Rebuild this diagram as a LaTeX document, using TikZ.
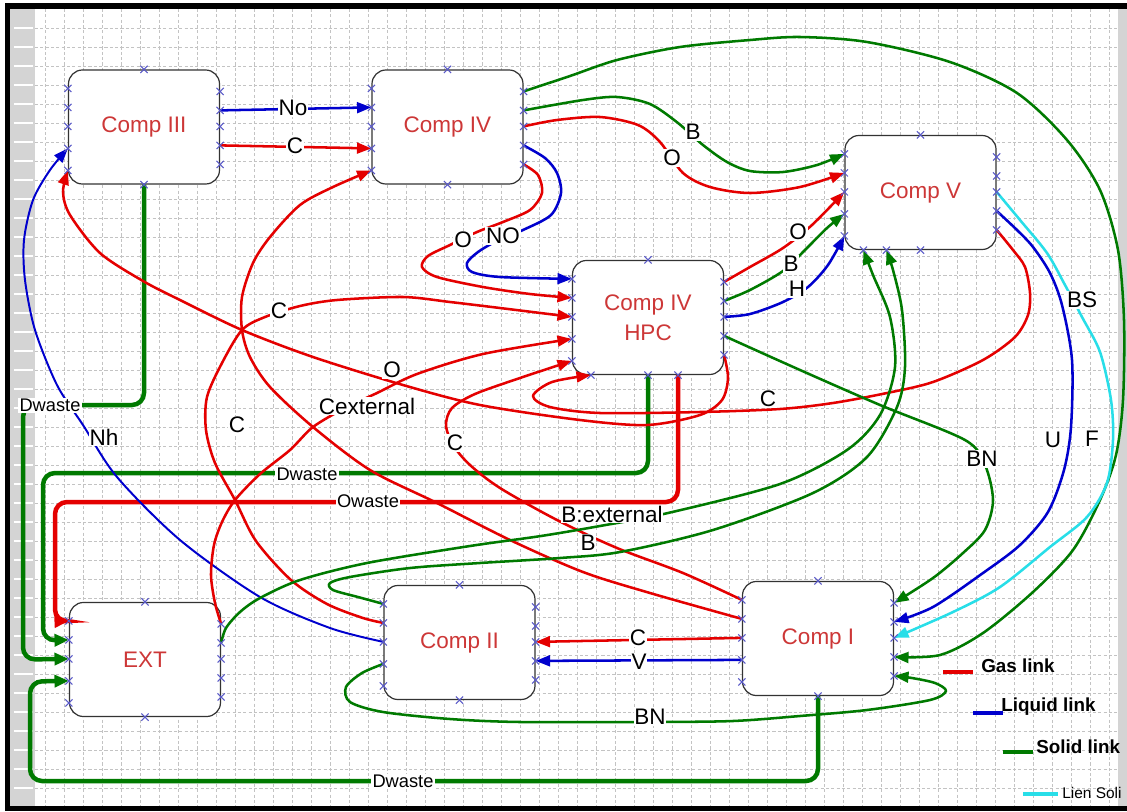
\documentclass[tikz,border=0pt]{standalone}
\usepackage{fontspec}
\setmainfont{Liberation Sans}
\usetikzlibrary{arrows.meta,calc}

\definecolor{lred}{RGB}{228,0,0}
\definecolor{lblue}{RGB}{0,0,205}
\definecolor{lgreen}{RGB}{0,122,0}
\definecolor{lcyan}{RGB}{40,222,232}
\definecolor{ntext}{RGB}{205,55,55}
\definecolor{pmark}{RGB}{90,90,200}
\definecolor{gridc}{RGB}{195,195,195}
\definecolor{stripc}{RGB}{212,212,212}

\tikzset{
  comp/.style={draw=black!80, line width=0.85pt, fill=white, rounded corners=0.35cm,
    minimum width=3.775cm, minimum height=2.85cm, text=ntext,
    font=\fontsize{16}{21}\selectfont, align=center, inner sep=0pt},
  lnk/.style={line width=1.8pt, line join=round, -{Triangle[length=0.36cm,width=0.27cm]}},
  gas/.style={lnk, color=lred},
  liq/.style={lnk, color=lblue},
  sol/.style={lnk, color=lgreen},
  cya/.style={lnk, color=lcyan},
  wst/.style={line width=3.2pt, rounded corners=0.3cm, -{Triangle[length=0.36cm,width=0.3cm]}},
  pm/.style={draw=pmark, line width=0.75pt},
  lab/.style={fill=white, inner sep=0.6pt, text=black, font=\fontsize{16}{18}\selectfont},
  slab/.style={fill=white, inner sep=0.8pt, text=black, font=\fontsize{13}{15}\selectfont},
  gridline/.style={draw=gridc, line width=0.45pt, dash pattern=on 2.2pt off 1.6pt},
  legtext/.style={anchor=west, inner sep=0pt, font=\bfseries\fontsize{13.4}{15}\selectfont},
}

\newcommand\mkports[1]{%
  \foreach \i/\d in {1/19,2/38,3/57,4/79,5/101}{\coordinate (#1-L\i) at ($(#1.north west)+(0,\d)$);}%
  \foreach \i/\d in {1/22,2/41,3/57,4/76,5/95}{\coordinate (#1-R\i) at ($(#1.north east)+(0,\d)$);}%
}
\newcommand\xmark[1]{\draw[pm] (#1) +(-3.6,-3.6) -- +(3.6,3.6) +(-3.6,3.6) -- +(3.6,-3.6);}
\newcommand\drawports[1]{%
  \foreach \p in {L1,L2,L3,L4,L5,R1,R2,R3,R4,R5}{\xmark{#1-\p}}%
  \xmark{#1.north}\xmark{#1.south}%
}

\begin{document}
\begin{tikzpicture}[x=0.025cm,y=-0.025cm]
\useasboundingbox (0,0) rectangle (1127,811);
\clip (0,0) rectangle (1127,811);
% background and frame
\fill[white] (0,0) rectangle (1127,811);
\fill[black] (5,3) rectangle (1127,811);
\fill[white] (10,9) rectangle (1127,806);
\fill[stripc] (10,9) rectangle (35,806);
\fill[stripc] (1118,9) rectangle (1127,806);
\foreach \y in {28,47,...,805} \draw[white, line width=0.8pt] (14,\y) -- (33,\y);
% grid
\foreach \x in {45,64,...,1117} \draw[gridline] (\x,9) -- (\x,806);
\foreach \y in {28,47,...,805} \draw[gridline] (35,\y) -- (1118,\y);

% nodes
\node[comp] (c3) at (144,127) {Comp III};
\node[comp] (c4) at (447.5,127) {Comp IV};
\node[comp] (c5) at (920.5,192.5) {Comp V};
\node[comp] (hpc) at (648,317.5) {Comp IV\\HPC};
\node[comp] (ext) at (145,659.5) {EXT};
\node[comp] (c2) at (459.5,642.5) {Comp II};
\node[comp] (c1) at (818,638.5) {Comp I};
\mkports{c3}\mkports{c4}\mkports{c5}\mkports{hpc}\mkports{ext}\mkports{c2}\mkports{c1}
\coordinate (hpc-BL) at ($(hpc.south west)+(19,0)$);
\coordinate (hpc-BR) at ($(hpc.south)+(30,0)$);
\coordinate (c5-B1) at ($(c5.south west)+(19,0)$);
\coordinate (c5-B2) at ($(c5.south west)+(42,0)$);

% ---------- connectors ----------
% Comp III -> Comp IV
\draw[liq] (c3-R2) -- (c4-L2);
\draw[gas] (c3-R4) -- (c4-L4);
% waste lines
\draw[wst, color=lgreen] (c3.south) -- (144,405) -- (23,405) -- (23,659.5) -- (ext-L3);
\draw[wst, color=lgreen] (hpc.south) -- (648,473) -- (43,473) -- (43,640.5) -- (ext-L2);
\draw[wst, color=lred] (hpc-BR) -- (678,502) -- (55,502) -- (55,621.5) -- (ext-L1);
\draw[wst, color=lgreen] (c1.south) -- (818,781) -- (30,781) -- (30,681.5) -- (ext-L4);
% Nh
\draw[liq, line width=1.4pt] plot[smooth] coordinates {(c2-L3) (330,628) (260,597) (180,540) (117,477) (83,425) (57,385) (35,330) (25,280) (24,240) (33,200) (50,170) (c3-L4)};
% O : HPC -> Comp III
\draw[gas] plot[smooth] coordinates {(hpc-R5) (728,378) (722,400) (700,415) (647,425) (580,420) (480,405) (403,385) (313,357) (242,330) (180,300) (143,281) (100,253) (70,215) (63,192) (c3-L5)};
% C : Comp V -> HPC
\draw[gas] plot[smooth] coordinates {(c5-R5) (1013,250) (1025,267) (1030,293) (1028,315) (1015,337) (983,360) (933,382) (887,393) (833,403) (780,409) (700,412) (600,413) (550,407) (533,396) (552,382) (hpc-BL)};
% C : Comp II -> HPC
\draw[gas] plot[smooth] coordinates {(c2-L2) (363,618) (327,604) (291,580) (256,541) (235,500) (215,463) (206,430) (207,397) (222,363) (242,330) (265,317) (300,306) (337,300) (403,297) (450,302) (500,308) (hpc-L3)};
% C : Comp I -> Comp IV
\draw[gas] plot[smooth] coordinates {(c1-L2) (650,593) (583,572) (510,540) (437,503) (370,470) (313,427) (270,387) (250,357) (242,330) (242,297) (253,263) (270,237) (300,205) (333,187) (c4-L5)};
% C : Comp I -> HPC
\draw[gas] plot[smooth] coordinates {(c1-L1) (683,573) (617,548) (557,520) (500,488) (470,465) (453,445) (446,425) (452,408) (475,394) (520,378) (hpc-L5)};
% Cexternal
\draw[gas] plot[smooth] coordinates {(ext-R1) (215,603) (211,575) (214,545) (222,522) (235,500) (260,474) (290,450) (313,427) (345,408) (377,393) (417,374) (483,354) (hpc-L4)};
% BN bottom loop
\draw[sol] plot[smooth] coordinates {(c2-L4) (362,673) (346,687) (350,702) (383,712) (450,719) (520,722) (650,722) (733,721) (800,716) (867,710) (930,700) (946,691) (935,683) (912,678) (c1-R5)};
% B : Comp II -> Comp V
\draw[sol] plot[smooth] coordinates {(c2-L1) (358,597) (333,590) (330,583) (350,577) (410,568) (480,563) (560,558) (620,552) (713,530) (813,493) (867,457) (897,407) (905,367) (902,310) (893,270) (c5-B2)};
% B:external : EXT -> Comp V
\draw[sol] plot[smooth] coordinates {(ext-R2) (226,628) (240,612) (260,598) (300,580) (367,563) (470,546) (541,536) (600,526) (668,513) (780,484) (847,450) (880,415) (895,367) (890,317) (873,275) (c5-B1)};
% big arc Comp IV -> Comp I
\draw[sol] plot[smooth] coordinates {(c4-R1) (570,76) (617,60) (680,47) (750,40) (800,37) (867,42) (950,62) (1017,93) (1067,140) (1100,190) (1118,250) (1124,320) (1123,400) (1116,455) (1100,500) (1073,550) (1033,592) (983,633) (940,655) (c1-R4)};
% Comp IV -> Comp V
\draw[sol] plot[smooth] coordinates {(c4-R2) (583,100) (617,97) (650,104) (678,123) (703,145) (727,162) (750,171) (783,172) (817,165) (c5-L1)};
\draw[gas] plot[smooth] coordinates {(c4-R3) (557,120) (600,117) (638,125) (660,142) (683,173) (710,187) (750,193) (800,187) (c5-L2)};
% Comp IV -> HPC
\draw[liq] plot[smooth] coordinates {(c4-R4) (545,158) (557,173) (561,193) (551,215) (523,230) (495,242) (478,252) (467,263) (472,272) (500,277) (hpc-L1)};
\draw[gas] plot[smooth] coordinates {(c4-R5) (538,175) (542,193) (530,210) (503,222) (477,232) (450,245) (428,256) (422,267) (437,277) (483,287) (530,294) (hpc-L2)};
% HPC -> Comp V
\draw[gas] plot[smooth] coordinates {(hpc-R1) (750,267) (783,248) (812,225) (c5-L3)};
\draw[sol] plot[smooth] coordinates {(hpc-R2) (750,290) (783,271) (805,250) (827,228) (c5-L4)};
\draw[liq] plot[smooth] coordinates {(hpc-R3) (750,314) (783,302) (808,287) (828,265) (c5-L5)};
% BN : HPC -> Comp I
\draw[sol] plot[smooth] coordinates {(hpc-R4) (800,370) (880,405) (965,440) (985,465) (993,500) (985,530) (963,553) (933,578) (c1-R1)};
% U : Comp V -> Comp I
\draw[liq] plot[smooth] coordinates {(c5-R4) (1017,230) (1033,247) (1050,273) (1062,305) (1072,360) (1071,427) (1064,470) (1048,512) (1020,545) (983,573) (933,607) (c1-R2)};
% cyan
\draw[cya] plot[smooth] coordinates {(c5-R3) (1020,220) (1047,253) (1065,285) (1082,317) (1100,352) (1111,400) (1113,440) (1107,483) (1087,517) (1050,547) (1000,587) (953,612) (c1-R3)};
% Comp I -> Comp II
\draw[gas] (c1-L3) -- (c2-R3);
\draw[liq] (c1-L4) -- (c2-R4);

% port marks
\foreach \n in {c3,c4,c5,hpc,ext,c2,c1} {\drawports{\n}}
\foreach \q in {hpc-BL,hpc-BR,c5-B1,c5-B2} {\xmark{\q}}

% ---------- labels ----------
\node[lab] (tNo) at (293,108) {No};
\node[lab] (tC1) at (295,146) {C};
\node[slab] (tDw1) at (50,405) {Dwaste};
\node[lab] (tNh) at (104,437) {Nh};
\node[lab] (tO1) at (392,370) {O};
\node[lab] (tC2) at (768,399) {C};
\node[lab] (tC3) at (279,311) {C};
\node[lab] (tC4) at (237,425) {C};
\node[lab] (tC5) at (455,443) {C};
\node[lab] (tCext) at (367,406) {Cexternal};
\node[slab] (tDw2) at (307,474) {Dwaste};
\node[slab] (tOw) at (368,501) {Owaste};
\node[slab] (tDw3) at (403,781) {Dwaste};
\node[lab] (tBN1) at (650,717) {BN};
\node[lab] (tBext) at (612,514) {B:external};
\node[lab] (tB1) at (588,543) {B};
\node[lab] (tB2) at (693,132) {B};
\node[lab] (tO2) at (672,158) {O};
\node[lab] (tO3) at (463,240) {O};
\node[lab] (tNO) at (503,236) {NO};
\node[lab] (tO4) at (798,232) {O};
\node[lab] (tB3) at (791,264) {B};
\node[lab] (tH) at (797,289) {H};
\node[lab] (tBN2) at (982,459) {BN};
\node[lab] (tU) at (1053,440) {U};
\node[lab] (tBS) at (1082,300) {BS};
\node[lab] (tF) at (1092,439) {F};
\node[lab] (tV) at (639,662) {V};
\node[lab] (tC6) at (638,638) {C};

% ---------- legend ----------
\draw[lred, line width=2.2pt] (943,672) -- (973,672);
\node[legtext] (lg1) at (981,666) {Gas link};
\draw[lblue, line width=2.2pt] (973,713) -- (1003,713);
\node[legtext] (lg2) at (1001,707) {Liquid link};
\draw[lgreen, line width=2.2pt] (1003,752) -- (1033,752);
\node[legtext] (lg3) at (1036,747) {Solid link};
\draw[lcyan, line width=2.2pt] (1023,794) -- (1058,794);
\node[anchor=west, inner sep=0pt, font=\fontsize{11}{13}\selectfont] (lg4) at (1062,793) {Lien Soli};
\end{tikzpicture}
\end{document}
